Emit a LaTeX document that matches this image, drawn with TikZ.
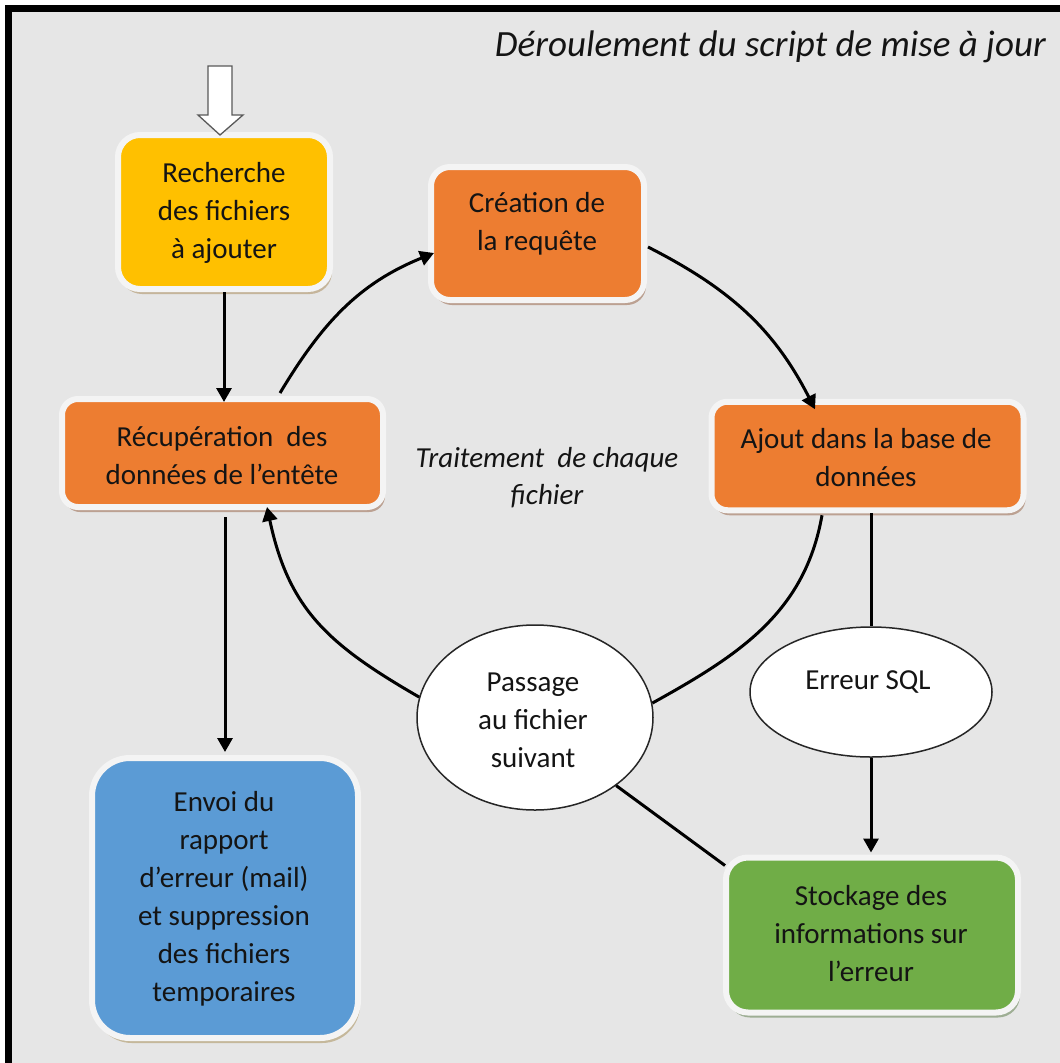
\documentclass[tikz,border=0pt]{standalone}
\usepackage{fontspec}
\setmainfont{Carlito}
\usetikzlibrary{arrows.meta,shapes.geometric,shadows,calc}
\definecolor{bg}{HTML}{E6E6E6}
\definecolor{edge}{HTML}{F4F4F4}
\definecolor{cY}{HTML}{FFC000}
\definecolor{cO}{HTML}{ED7D31}
\definecolor{cB}{HTML}{5B9BD5}
\definecolor{cG}{HTML}{70AD47}
\definecolor{shY}{HTML}{B0956A}
\definecolor{shO}{HTML}{A0745A}
\definecolor{shB}{HTML}{B09A6A}
\definecolor{shG}{HTML}{6E8A5E}
\definecolor{txt}{HTML}{141414}
\tikzset{
  box/.style={rectangle, draw=edge, line width=6pt, inner sep=0pt},
  sh/.style={drop shadow={shadow xshift=2pt, shadow yshift=-5pt, fill=#1, opacity=0.6}},
  lbl/.style={font=\fontsize{29}{38}\selectfont, align=center, text=txt, inner sep=0pt},
  conn/.style={line width=3pt, draw=black},
  arr/.style={conn, -{Triangle[length=14pt,width=15pt]}},
  oval/.style={ellipse, draw=black!85, line width=1.5pt, fill=white, inner sep=0pt},
}
\begin{document}
\begin{tikzpicture}[x=1pt,y=-1pt]
\useasboundingbox (0,0) rectangle (1060,1063);
\fill[white] (0,0) rectangle (1060,1063);
\fill[bg] (12,12) rectangle (1060,1063);
\fill[black] (5,5) rectangle (1060,12);
\fill[black] (5,5) rectangle (12,1063);

% title
\node[font=\fontsize{37}{44}\selectfont\itshape, text=txt, anchor=base east, inner sep=0pt] (title) at (1046,56) {Déroulement du script de mise à jour};

% boxes
\node[box, sh=shY, fill=cY, rounded corners=22pt, minimum width=212pt, minimum height=154pt] (rech) at (224,212) {};
\node[lbl] (rechT) at (224,213) {Recherche\\des fichiers\\à ajouter};

\node[box, sh=shO, fill=cO, rounded corners=19pt, minimum width=213pt, minimum height=133pt] (crea) at (537.5,233.5) {};
\node[lbl] (creaT) at (537,224) {Création de\\la requête};

\node[box, sh=shO, fill=cO, rounded corners=16pt, minimum width=321pt, minimum height=108pt] (recup) at (222.5,453) {};
\node[lbl] (recupT) at (222,456) {Récupération\ \ des\\données de l’entête};

\node[box, sh=shO, fill=cO, rounded corners=16pt, minimum width=312pt, minimum height=108.5pt] (ajout) at (867.5,456) {};
\node[lbl] (ajoutT) at (866,457.5) {Ajout dans la base de\\données};

\node[box, sh=shB, fill=cB, rounded corners=38pt, minimum width=266pt, minimum height=280pt] (envoi) at (225,898) {};
\node[lbl] (envoiT) at (224,899) {Envoi du\\rapport\\d’erreur (mail)\\et suppression\\des fichiers\\temporaires};

\node[box, sh=shG, fill=cG, rounded corners=22pt, minimum width=292pt, minimum height=155pt] (stock) at (872,935) {};
\node[lbl] (stockT) at (871,934) {Stockage des\\informations sur\\l’erreur};

% ellipses
\node[oval, minimum width=236pt, minimum height=185pt] (passage) at (535,717.5) {};
\node[lbl] (passageT) at (533,720) {Passage\\au fichier\\suivant};
\node[oval, minimum width=242pt, minimum height=130pt] (erreur) at (871,692) {};
\node[lbl] (erreurT) at (868,682) {Erreur SQL};

% center label
\node[lbl, font=\fontsize{29}{37}\selectfont\itshape] (trait) at (547,478) {Traitement\ \ de chaque\\fichier};

% block arrow into the first box
\coordinate (blkTop) at (220,66);
\draw[fill=white, draw=black!65, line width=1.3pt, line join=miter]
  ($(blkTop)+(-12,0)$) -- ($(blkTop)+(12,0)$) -- ($(blkTop)+(12,49)$) -- ($(blkTop)+(23,49)$)
  -- ([xshift=-4pt,yshift=-3pt]rech.north) -- ($(blkTop)+(-22,49)$) -- ($(blkTop)+(-12,49)$) -- cycle;

% straight connectors
\draw[arr] (rech.south) -- ([yshift=-6pt]rech.south |- recup.north);
\draw[arr, shorten <=7pt, shorten >=3pt] (envoi.north |- recup.south) -- (envoi.north);
\draw[conn] (erreur.north |- ajout.south) -- (erreur.north);
\draw[arr, shorten >=2pt] (erreur.south) -- (erreur.south |- stock.north);
\draw[conn] (passage.-40) -- ([xshift=2pt,yshift=-11pt]stock.north west);

% loop
\draw[arr] ([xshift=57.5pt,yshift=3pt]recup.north) to[out=59,in=202] ([xshift=6pt,yshift=-19.5pt]crea.west);
\draw[arr] ([xshift=1pt,yshift=-13.5pt]crea.east) to[out=-27,in=117] ([xshift=-52.5pt,yshift=-10.5pt]ajout.north);
\draw[conn] ([xshift=-45.5pt,yshift=-2pt]ajout.south) to[out=-100,in=29] (passage.7);
\draw[arr] (passage.170) to[out=150,in=-78, looseness=1.1] ([xshift=44.5pt,yshift=3pt]recup.south);
\end{tikzpicture}
\end{document}
